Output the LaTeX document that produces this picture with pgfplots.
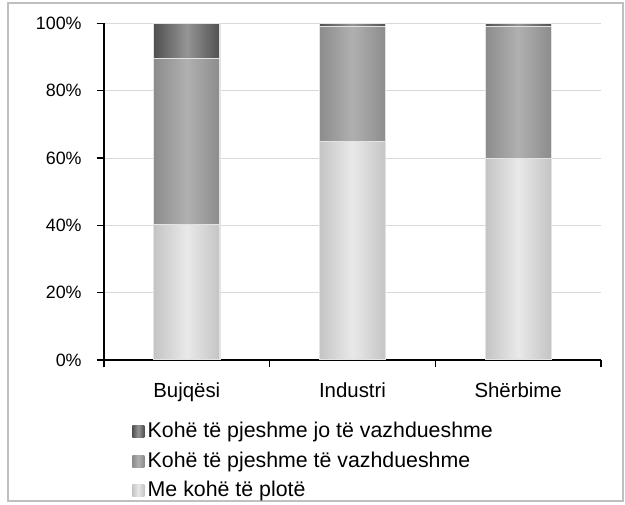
\documentclass[border=0pt]{standalone}
\usepackage{pgfplots}
\pgfplotsset{compat=1.18}
\usepackage{fontspec}
\setmainfont{Liberation Sans}

\definecolor{gridgray}{HTML}{D9D9D9}
\definecolor{framegray}{HTML}{BFBFBF}
\definecolor{barline}{HTML}{E3E3E3}
\definecolor{lightA}{HTML}{C4C4C4}
\definecolor{lightB}{HTML}{E9E9E9}
\definecolor{midA}{HTML}{8C8C8C}
\definecolor{midB}{HTML}{B0B0B0}
\definecolor{darkA}{HTML}{505050}
\definecolor{darkB}{HTML}{959595}

\pgfplotsset{
  seg/.style={ybar, bar width=0.4, bar shift=0pt, draw=barline, line width=0.8pt, forget plot},
  lightseg/.style={left color=lightA, right color=lightA, middle color=lightB},
  midseg/.style={left color=midA, right color=midA, middle color=midB},
  darkseg/.style={left color=darkA, right color=darkA, middle color=darkB},
}

\begin{document}
\fontsize{15.3}{18}\selectfont
\begin{tikzpicture}
\path[use as bounding box] (0,0) rectangle (468.75pt,-378.75pt);
\draw[framegray, line width=1.5pt] (6pt,-2.25pt) rectangle (467.5pt,-375.75pt);
\begin{axis}[
    at={(78pt,-270pt)}, anchor=south west,
    width=372.75pt, height=252.4pt, scale only axis,
    xmin=-0.5, xmax=2.5, ymin=0, ymax=100,
    axis x line*=bottom, axis y line*=left,
    axis line style={black, line width=1pt},
    ymajorgrids, grid style={gridgray, line width=0.75pt},
    ytick={0,20,40,60,80,100},
    yticklabels={0\%,20\%,40\%,60\%,80\%,100\%},
    yticklabel style={xshift=-6pt, font=\fontsize{13.4}{16}\selectfont},
    xtick={-0.5,0.5,1.5,2.5}, xticklabels={},
    extra x ticks={0,1,2},
    extra x tick labels={Bujqësi,Industri,Shërbime},
    extra x tick style={major tick length=0pt, xticklabel style={yshift=-12pt}},
    tick align=outside, major tick length=5.5pt,
    tick style={black, line width=0.9pt},
    legend image code/.code={\path[#1] (0pt,-4.5pt) rectangle (9pt,4.5pt);},
    legend cell align=left,
    legend style={at={(0.0563,-0.1765)}, anchor=north west, draw=none, fill=none,
        inner sep=0pt, row sep=4.2pt, font=\fontsize{16}{18}\selectfont,
        nodes={inner xsep=2.6pt, inner ysep=2pt}},
]
% Bujqesi: boundaries read at 40.2 / 89.5 / 100
\addplot[seg, darkseg] coordinates {(0,100)};
\addplot[seg, midseg] coordinates {(0,89.5)};
\addplot[seg, lightseg] coordinates {(0,40.2)};
% Industri: 64.8 / 99.0 / 100
\addplot[seg, darkseg] coordinates {(1,100)};
\addplot[seg, midseg] coordinates {(1,99.0)};
\addplot[seg, lightseg] coordinates {(1,64.8)};
% Sherbime: 59.8 / 99.0 / 100
\addplot[seg, darkseg] coordinates {(2,100)};
\addplot[seg, midseg] coordinates {(2,99.0)};
\addplot[seg, lightseg] coordinates {(2,59.8)};

\addlegendimage{darkseg, draw=none}
\addlegendentry{Kohë të pjeshme jo të vazhdueshme}
\addlegendimage{midseg, draw=none}
\addlegendentry{Kohë të pjeshme të vazhdueshme}
\addlegendimage{lightseg, draw=none}
\addlegendentry{Me kohë të plotë}
\end{axis}
\end{tikzpicture}
\end{document}
